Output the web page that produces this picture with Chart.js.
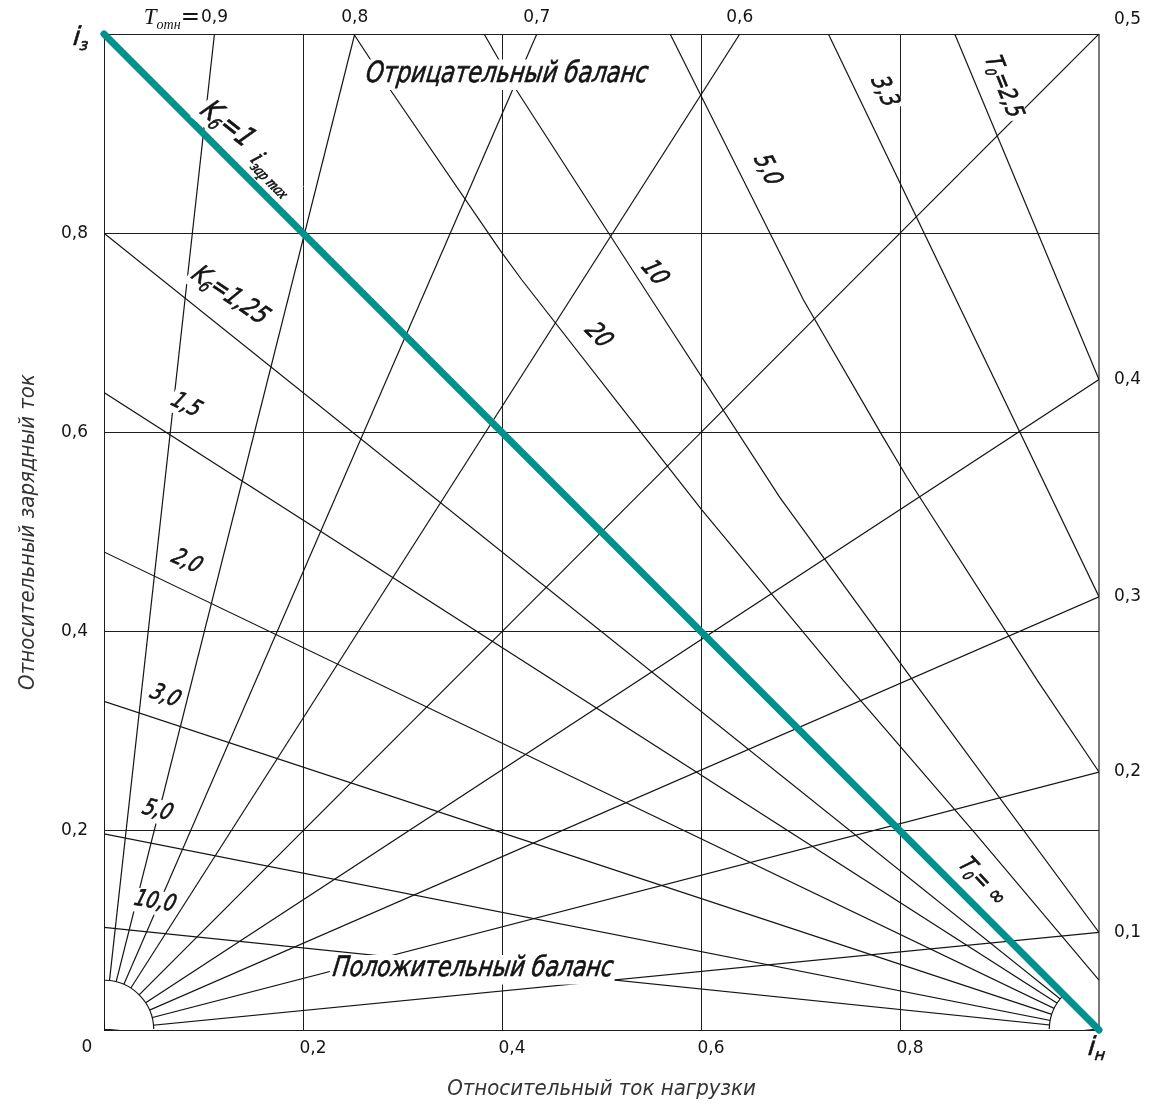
<!DOCTYPE html>
<html lang="ru">
<head>
<meta charset="utf-8">
<title>Номограмма баланса заряда</title>
<script src="https://cdn.jsdelivr.net/npm/chart.js@4.4.1/dist/chart.umd.min.js"></script>
<style>
  html, body { margin: 0; padding: 0; background: #fff; }
  #wrap { width: 1152px; height: 1108px; }
</style>
</head>
<body>
<div id="wrap"><canvas id="nomo" width="1152" height="1108"></canvas></div>
<script>
// Tотн: лучи из начала координат, концы лучей на верхней / правой границе
const tOtn = [0.1, 0.2, 0.3, 0.4, 0.5, 0.6, 0.7, 0.8, 0.9];
const tOtnEndX = [1, 1, 1, 1, 1, 0.639, 0.435, 0.252, 0.111];
const tOtnEndY = [0.098, 0.259, 0.435, 0.653, 1, 1, 1, 1, 1];

// Kб: прямые от оси iз к точке iн = 1
const kb = [1.25, 1.5, 2.0, 3.0, 5.0, 10.0];
const kbStartY = [0.8, 0.64, 0.48, 0.33, 0.197, 0.103];

// T0: кривые в зоне отрицательного баланса
const t0 = ['2,5', '3,3', '5,0', '10', '20'];
const t0X = [
  [0.855, 1.0],
  [0.728, 1.0],
  [0.569, 0.596, 0.703, 0.782, 0.807, 0.938, 1.0],
  [0.382, 0.413, 0.546, 0.679, 0.813, 1.0],
  [0.251, 0.287, 0.398, 0.420, 0.542, 0.601, 0.743, 0.876, 1.0]
];
const t0Y = [
  [1.0, 0.653],
  [1.0, 0.435],
  [1.0, 0.946, 0.733, 0.597, 0.555, 0.351, 0.259],
  [1.0, 0.946, 0.740, 0.535, 0.351, 0.098],
  [1.0, 0.945, 0.783, 0.753, 0.597, 0.522, 0.351, 0.197, 0.05]
];

// Kб = 1 (T0 = ∞)
const mainX = [0, 1];
const mainY = [1, 0];

const fanOrigin = { x: 0, y: 0 };
const fanCorner = { x: 1, y: 0 };
const fanR = 0.05;

const FAM = '"DejaVu Sans", "Noto Sans", sans-serif';
const SERIF = '"Liberation Serif", "DejaVu Serif", serif';
const INK = '#141414';
const TEAL = '#00918d';

const comma = v => String(v).replace('.', ',');
const fmtK = v => comma(Number.isInteger(v) ? v.toFixed(1) : v);
const pts = (xs, ys) => xs.map((x, i) => ({ x: x, y: ys[i] }));

const thin = { showLine: true, pointRadius: 0, borderWidth: 1.2, borderColor: INK, tension: 0 };

const datasets = [];
datasets.push({
  label: 'Kб=1', data: pts(mainX, mainY), showLine: true, pointRadius: 0,
  borderWidth: 7, borderColor: TEAL, borderCapStyle: 'round', clip: 6
});
tOtn.forEach((t, i) => datasets.push({
  ...thin, label: 'Tотн=' + comma(t),
  data: [fanOrigin, { x: tOtnEndX[i], y: tOtnEndY[i] }]
}));
kb.forEach((k, i) => datasets.push({
  ...thin, label: 'Kб=' + fmtK(k),
  data: [{ x: 0, y: kbStartY[i] }, fanCorner]
}));
t0.forEach((t, i) => datasets.push({
  ...thin, label: 'T0=' + t, data: pts(t0X[i], t0Y[i])
}));

// подписи на поле: где стоят, угол, кегль
const kbLabelAt = [
  [0.1266, 0.737, 34, 26],
  [0.0824, 0.627, 26, 23],
  [0.083, 0.470, 24, 23],
  [0.0613, 0.335, 20, 23],
  [0.0538, 0.220, 14, 23],
  [0.0513, 0.1285, 9, 23]
];
const t0LabelAt = [
  [0.9035, 0.947, 68, 24],
  [0.784, 0.942, 64, 25],
  [0.6663, 0.8635, 63, 25],
  [0.5528, 0.760, 50, 25],
  [0.4965, 0.697, 45, 25]
];

// строка из кусков: обычный текст и нижние индексы
function drawRich(ctx, parts, px, py, opt) {
  const size = opt.size;
  const fontFor = p => (p.upright ? '' : 'italic ') + (p.sub ? Math.round(size * 0.6) : size) + 'px ' + (p.serif ? SERIF : (opt.family || FAM));
  ctx.save();
  ctx.translate(px, py);
  ctx.rotate((opt.angle || 0) * Math.PI / 180);
  let w = 0;
  const widths = parts.map(p => {
    ctx.font = fontFor(p);
    const m = ctx.measureText(p.t).width;
    w += m;
    return m;
  });
  const sx = opt.width ? opt.width / w : (opt.squeeze || 0.8);
  ctx.scale(sx, 1);
  if (opt.skew) ctx.transform(1, 0, -opt.skew, 1, 0, 0);
  let x0 = -w / 2;
  if (opt.align === 'left') x0 = 0;
  if (opt.align === 'right') x0 = -w;
  if (opt.bg) {
    ctx.fillStyle = '#fff';
    ctx.fillRect(x0 - 3 / sx, -size * 0.5, w + 6 / sx, size * 1.05);
  }
  ctx.fillStyle = INK;
  ctx.strokeStyle = INK;
  ctx.lineWidth = opt.heavy || 0;
  ctx.textBaseline = 'middle';
  ctx.textAlign = 'left';
  let x = x0;
  parts.forEach((p, i) => {
    ctx.font = fontFor(p);
    const yy = p.sub ? size * 0.3 : 0;
    ctx.fillText(p.t, x, yy);
    if (opt.heavy) ctx.strokeText(p.t, x, yy);
    x += widths[i];
  });
  ctx.restore();
}

function fanMask(ctx, area, cx, cy, r, a0, a1) {
  ctx.save();
  ctx.beginPath();
  ctx.rect(area.left + 1, area.top, area.right - area.left - 2, area.bottom - area.top - 1);
  ctx.clip();
  ctx.beginPath();
  ctx.moveTo(cx, cy);
  ctx.arc(cx, cy, r, a0, a1);
  ctx.closePath();
  ctx.fillStyle = '#fff';
  ctx.fill();
  ctx.beginPath();
  ctx.arc(cx, cy, r, a0, a1);
  ctx.strokeStyle = INK;
  ctx.lineWidth = 1.2;
  ctx.stroke();
  ctx.restore();
}

const nomoDecor = {
  id: 'nomoDecor',
  beforeDatasetDraw(chart, args) {
    // дуги у полюсов пучков, до того как ляжет линия Kб=1
    if (args.index !== 0) return;
    const { ctx, chartArea: area, scales: { x, y } } = chart;
    const r = x.getPixelForValue(fanR) - x.getPixelForValue(0);
    fanMask(ctx, area, x.getPixelForValue(fanOrigin.x), y.getPixelForValue(fanOrigin.y), r, -Math.PI / 2, 0);
    fanMask(ctx, area, x.getPixelForValue(fanCorner.x), y.getPixelForValue(fanCorner.y), r, Math.PI, Math.PI * 1.25);
  },
  afterDatasetsDraw(chart) {
    const { ctx, chartArea: area, scales: { x, y } } = chart;
    const X = v => x.getPixelForValue(v);
    const Y = v => y.getPixelForValue(v);
    const plain = { size: 17, squeeze: 1, family: FAM };
    const up = s => ({ t: s, upright: true });

    // Tотн на верхней и правой кромке
    tOtn.forEach((t, i) => {
      const ex = tOtnEndX[i], ey = tOtnEndY[i];
      const txt = [up(comma(t))];
      if (ex < 1) {
        drawRich(ctx, txt, X(ex), area.top - 16, plain);
        if (t === Math.max(...tOtn)) {
          ctx.save();
          ctx.font = '17px ' + FAM;
          const hw = ctx.measureText(comma(t)).width / 2;
          ctx.restore();
          drawRich(ctx, [{ t: 'T', serif: true }, { t: 'отн', sub: true, serif: true }, up('=')],
            X(ex) - hw - 1, area.top - 16, { size: 23, squeeze: 1, align: 'right' });
        }
      } else if (ey < 1) {
        drawRich(ctx, txt, area.right + 15, Y(ey), { ...plain, align: 'left' });
      } else {
        drawRich(ctx, txt, area.right + 15, area.top - 14, { ...plain, align: 'left' });
      }
    });

    // угловые обозначения осей
    drawRich(ctx, [up('0')], X(0) - 17, area.bottom + 18, plain);
    drawRich(ctx, [{ t: 'i' }, { t: 'з', sub: true }], X(0) - 15, Y(1) + 4, { size: 26, squeeze: 1, align: 'right', skew: 0.1, heavy: 0.6 });
    drawRich(ctx, [{ t: 'i' }, { t: 'н', sub: true }], X(1) - 2, area.bottom + 18, { size: 26, squeeze: 1, skew: 0.1, heavy: 0.6 });

    const it = { squeeze: 0.8, skew: 0.18, bg: true, heavy: 0.7 };

    drawRich(ctx, [{ t: 'Отрицательный баланс' }], X(0.405), Y(0.9598), { ...it, size: 29, width: 282 });
    drawRich(ctx, [{ t: 'Положительный баланс' }], X(0.371), Y(0.0612), { ...it, size: 28, width: 280 });

    drawRich(ctx, [{ t: 'K' }, { t: 'б', sub: true }, { t: '=1' }], X(0.1236), Y(0.9086), { ...it, size: 29, angle: 38 });
    drawRich(ctx, [{ t: 'i', serif: true }, { t: 'зар max', sub: true, serif: true }], X(0.1698), Y(0.8594), { ...it, size: 26, angle: 45, squeeze: 0.85 });

    kb.forEach((k, i) => {
      const [lx, ly, ang, sz] = kbLabelAt[i];
      const parts = i === 0
        ? [{ t: 'K' }, { t: 'б', sub: true }, { t: '=' + fmtK(k) }]
        : [{ t: fmtK(k) }];
      drawRich(ctx, parts, X(lx), Y(ly), { ...it, size: sz, angle: ang });
    });

    t0.forEach((t, i) => {
      const [lx, ly, ang, sz] = t0LabelAt[i];
      const parts = i === 0
        ? [{ t: 'T' }, { t: '0', sub: true }, { t: '=' + t }]
        : [{ t: t }];
      drawRich(ctx, parts, X(lx), Y(ly), { ...it, size: sz, angle: ang });
    });

    drawRich(ctx, [{ t: 'T' }, { t: '0', sub: true }, { t: '= ∞' }], X(0.8824), Y(0.1486), { ...it, size: 24, angle: 47 });
  }
};

const gridColor = ctx => (ctx.tick && ctx.tick.value === 1 ? '#7a7a7a' : '#1e1e1e');
const gridWidth = ctx => (ctx.tick && ctx.tick.value === 1 ? 2 : 1);
const tickText = v => (v > 0.01 && v < 0.99 ? v.toFixed(1).replace('.', ',') : '');
const titleFont = { family: '"DejaVu Sans Condensed", "Liberation Sans Narrow", "DejaVu Sans", sans-serif', size: 22, style: 'italic' };

new Chart(document.getElementById('nomo'), {
  type: 'scatter',
  data: { datasets: datasets },
  options: {
    responsive: false,
    animation: false,
    layout: { padding: { top: 34, right: 53, left: 0, bottom: 0 } },
    plugins: { legend: { display: false }, tooltip: { enabled: false } },
    scales: {
      x: {
        type: 'linear', min: 0, max: 1,
        afterFit: s => { s.height = 78; },
        grid: { color: gridColor, lineWidth: gridWidth, drawTicks: false },
        border: { color: '#1e1e1e' },
        ticks: {
          stepSize: 0.2, autoSkip: false, maxRotation: 0, padding: 8, labelOffset: 10,
          color: INK, font: { family: FAM, size: 17 }, callback: tickText
        },
        title: { display: true, text: 'Относительный ток нагрузки', color: '#333', font: titleFont, padding: { top: 0, bottom: 6 } }
      },
      y: {
        type: 'linear', min: 0, max: 1,
        afterFit: s => { s.width = 104; },
        grid: { color: '#1e1e1e', lineWidth: 1, drawTicks: false },
        border: { color: '#1e1e1e' },
        ticks: {
          stepSize: 0.2, autoSkip: false, padding: 16,
          color: INK, font: { family: FAM, size: 17 }, callback: tickText
        },
        title: { display: true, text: 'Относительный зарядный ток', color: '#333', font: titleFont, padding: { top: 15, bottom: 0 } }
      }
    }
  },
  plugins: [nomoDecor]
});
</script>
</body>
</html>
